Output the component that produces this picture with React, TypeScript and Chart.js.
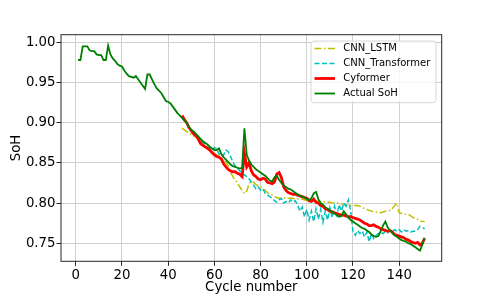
import React, { useEffect, useRef } from "react";
import Chart from "chart.js/auto";

// ---- data ----
const X_TICKS = [0, 20, 40, 60, 80, 100, 120, 140];
const Y_TICKS = [0.75, 0.8, 0.85, 0.9, 0.95, 1.0];
const ACTUAL_START_CYCLE = 1;
const PRED_START_CYCLE = 46;

const actualSoH = [
  0.978, 0.978, 0.995, 0.995, 0.995, 0.990, 0.989, 0.989, 0.985, 0.984,
  0.984, 0.978, 0.978, 0.996, 0.985, 0.980, 0.977, 0.973, 0.971, 0.970,
  0.965, 0.961, 0.958, 0.957, 0.956, 0.958, 0.954, 0.950, 0.946, 0.942,
  0.960, 0.960, 0.954, 0.948, 0.943, 0.940, 0.937, 0.932, 0.927, 0.926,
  0.924, 0.920, 0.916, 0.912, 0.909, 0.906, 0.903, 0.900, 0.895, 0.891,
  0.889, 0.886, 0.883, 0.880, 0.877, 0.875, 0.873, 0.870, 0.868, 0.866,
  0.866, 0.868, 0.861, 0.857, 0.854, 0.851, 0.848, 0.846, 0.845, 0.844,
  0.843, 0.844, 0.893, 0.860, 0.853, 0.848, 0.845, 0.842, 0.840, 0.838,
  0.836, 0.834, 0.831, 0.828, 0.827, 0.832, 0.834, 0.829, 0.825, 0.822,
  0.820, 0.818, 0.817, 0.815, 0.813, 0.811, 0.809, 0.808, 0.807, 0.805,
  0.804, 0.806, 0.812, 0.814, 0.805, 0.800, 0.798, 0.795, 0.793, 0.791,
  0.789, 0.787, 0.785, 0.783, 0.784, 0.790, 0.786, 0.782, 0.779, 0.777,
  0.775, 0.773, 0.771, 0.769, 0.768, 0.766, 0.764, 0.761, 0.759, 0.758,
  0.759, 0.765, 0.772, 0.777, 0.770, 0.766, 0.763, 0.760, 0.758, 0.756,
  0.754, 0.753, 0.752, 0.750, 0.749, 0.747, 0.745, 0.743, 0.741, 0.748,
  0.757,
];

const cyformer = [
  0.909, 0.904, 0.900, 0.894, 0.890, 0.886, 0.884, 0.880, 0.874, 0.872,
  0.870, 0.868, 0.866, 0.863, 0.860, 0.858, 0.857, 0.855, 0.849, 0.845,
  0.842, 0.840, 0.839, 0.839, 0.837, 0.836, 0.833, 0.862, 0.845, 0.850,
  0.840, 0.835, 0.833, 0.830, 0.829, 0.831, 0.830, 0.826, 0.825, 0.824,
  0.826, 0.836, 0.838, 0.832, 0.820, 0.816, 0.813, 0.812, 0.811, 0.811,
  0.810, 0.809, 0.808, 0.807, 0.806, 0.803, 0.802, 0.805, 0.801, 0.800,
  0.797, 0.796, 0.793, 0.792, 0.790, 0.789, 0.788, 0.787, 0.786, 0.785,
  0.785, 0.784, 0.783, 0.783, 0.782, 0.781, 0.780, 0.779, 0.777, 0.775,
  0.774, 0.772, 0.772, 0.773, 0.771, 0.770, 0.768, 0.767, 0.766, 0.765,
  0.766, 0.764, 0.761, 0.760, 0.759, 0.758, 0.757, 0.755, 0.754, 0.752,
  0.751, 0.750, 0.751, 0.748, 0.750, 0.756,
];

const cnnTransformer = [
  0.906, 0.902, 0.899, 0.895, 0.891, 0.888, 0.885, 0.881, 0.878, 0.875,
  0.873, 0.871, 0.868, 0.866, 0.869, 0.868, 0.861, 0.858, 0.860, 0.866,
  0.864, 0.858, 0.851, 0.846, 0.843, 0.840, 0.838, 0.835, 0.833, 0.830,
  0.826, 0.822, 0.818, 0.820, 0.816, 0.818, 0.812, 0.810, 0.808, 0.806,
  0.803, 0.801, 0.804, 0.806, 0.800, 0.802, 0.800, 0.804, 0.801, 0.803,
  0.798, 0.790, 0.795, 0.783, 0.792, 0.779, 0.790, 0.777, 0.793, 0.780,
  0.792, 0.776, 0.790, 0.779, 0.794, 0.782, 0.796, 0.785, 0.798, 0.790,
  0.800, 0.796, 0.804, 0.790, 0.764, 0.760, 0.766, 0.762, 0.765, 0.758,
  0.764, 0.752, 0.762, 0.756, 0.760, 0.762, 0.764, 0.762, 0.765, 0.763,
  0.766, 0.764, 0.767, 0.765, 0.767, 0.764, 0.767, 0.765, 0.766, 0.764,
  0.765, 0.765, 0.767, 0.771, 0.770, 0.768,
];

const cnnLstm = [
  0.893, 0.891, 0.889, 0.887, 0.885, 0.884, 0.882, 0.879, 0.876, 0.873,
  0.871, 0.869, 0.866, 0.864, 0.862, 0.860, 0.858, 0.855, 0.853, 0.851,
  0.846, 0.838, 0.833, 0.829, 0.825, 0.820, 0.816, 0.812, 0.815, 0.824,
  0.827, 0.826, 0.823, 0.821, 0.820, 0.818, 0.816, 0.813, 0.811, 0.810,
  0.808, 0.807, 0.806, 0.806, 0.807, 0.806, 0.806, 0.806, 0.806, 0.805,
  0.805, 0.805, 0.805, 0.804, 0.804, 0.804, 0.803, 0.803, 0.803, 0.802,
  0.802, 0.802, 0.801, 0.801, 0.801, 0.800, 0.800, 0.800, 0.800, 0.799,
  0.799, 0.798, 0.798, 0.797, 0.797, 0.797, 0.797, 0.796, 0.795, 0.793,
  0.792, 0.791, 0.790, 0.789, 0.789, 0.788, 0.788, 0.789, 0.790, 0.790,
  0.791, 0.793, 0.797, 0.800, 0.788, 0.787, 0.787, 0.786, 0.786, 0.784,
  0.782, 0.781, 0.780, 0.778, 0.777, 0.777,
];

const SERIES_NAMES = ["CNN_LSTM", "CNN_Transformer", "Cyformer", "Actual SoH"];

const toPoints = (vals: number[], start: number) =>
  vals.map((y, i) => ({ x: start + i, y }));

const FONT = "'DejaVu Sans', sans-serif";

const frameAndLegend = {
  id: "frameAndLegend",
  afterDatasetsDraw(chart: any) {
    const { ctx, chartArea } = chart;
    const { left, right, top, bottom } = chartArea;
    ctx.save();
    ctx.strokeStyle = "#262626";
    ctx.lineWidth = 1;
    ctx.setLineDash([]);
    ctx.strokeRect(left, top, right - left, bottom - top);

    const w = 125;
    const h = 61.7;
    const x0 = right - 5.7 - w;
    const y0 = top + 6.3;
    const r = 3;
    ctx.beginPath();
    ctx.moveTo(x0 + r, y0);
    ctx.lineTo(x0 + w - r, y0);
    ctx.quadraticCurveTo(x0 + w, y0, x0 + w, y0 + r);
    ctx.lineTo(x0 + w, y0 + h - r);
    ctx.quadraticCurveTo(x0 + w, y0 + h, x0 + w - r, y0 + h);
    ctx.lineTo(x0 + r, y0 + h);
    ctx.quadraticCurveTo(x0, y0 + h, x0, y0 + h - r);
    ctx.lineTo(x0, y0 + r);
    ctx.quadraticCurveTo(x0, y0, x0 + r, y0);
    ctx.closePath();
    ctx.fillStyle = "rgba(255,255,255,0.8)";
    ctx.fill();
    ctx.strokeStyle = "#d6d6d6";
    ctx.lineWidth = 1;
    ctx.stroke();

    SERIES_NAMES.forEach((name, i) => {
      const ds = chart.data.datasets.find((d: any) => d.label === name);
      const y = y0 + 7.5 + i * 15;
      ctx.beginPath();
      ctx.strokeStyle = ds.borderColor;
      ctx.lineWidth = ds.borderWidth;
      ctx.setLineDash(ds.borderDash || []);
      ctx.moveTo(x0 + 3.5, y);
      ctx.lineTo(x0 + 24, y);
      ctx.stroke();
      ctx.setLineDash([]);
      ctx.fillStyle = "#000";
      ctx.font = `10px ${FONT}`;
      ctx.textBaseline = "middle";
      ctx.textAlign = "left";
      ctx.fillText(name, x0 + 32.3, y);
    });
    ctx.restore();
  },
};

export default function App() {
  const ref = useRef<HTMLCanvasElement | null>(null);
  useEffect(() => {
    if (!ref.current) return;
    const chart = new Chart(ref.current, {
      type: "line",
      data: {
        datasets: [
          {
            label: SERIES_NAMES[0],
            data: toPoints(cnnLstm, PRED_START_CYCLE),
            borderColor: "#bfbf00",
            borderWidth: 1.5,
            borderDash: [7, 2.5, 1.5, 2.5],
            pointRadius: 0,
            tension: 0,
            order: 3,
          },
          {
            label: SERIES_NAMES[1],
            data: toPoints(cnnTransformer, PRED_START_CYCLE),
            borderColor: "#00bfbf",
            borderWidth: 1.5,
            borderDash: [5, 2.5],
            pointRadius: 0,
            tension: 0,
            order: 2,
          },
          {
            label: SERIES_NAMES[2],
            data: toPoints(cyformer, PRED_START_CYCLE),
            borderColor: "#ff0000",
            borderWidth: 2.8,
            pointRadius: 0,
            tension: 0,
            order: 1,
          },
          {
            label: SERIES_NAMES[3],
            data: toPoints(actualSoH, ACTUAL_START_CYCLE),
            borderColor: "#008000",
            borderWidth: 1.8,
            pointRadius: 0,
            tension: 0,
            order: 0,
          },
        ],
      },
      options: {
        responsive: false,
        animation: false,
        devicePixelRatio: 1,
        layout: { padding: { left: 0, right: 49.3, top: 34.7, bottom: 0 } },
        plugins: {
          legend: { display: false },
          tooltip: { enabled: false },
        },
        scales: {
          x: {
            type: "linear",
            min: -6.4,
            max: 158.4,
            afterBuildTicks: (axis: any) => {
              axis.ticks = X_TICKS.map((v) => ({ value: v }));
            },
            afterFit: (axis: any) => {
              axis.height = 32.7;
            },
            grid: {
              color: "#d0d0d0",
              lineWidth: 1,
              tickColor: "#262626",
              tickLength: 4.5,
            },
            border: { display: false },
            ticks: {
              color: "#000",
              font: { family: FONT, size: 13.3 },
              padding: 1.5,
              maxRotation: 0,
              autoSkip: false,
            },
            title: {
              display: true,
              text: "Cycle number",
              color: "#000",
              font: { family: FONT, size: 13.3 },
              padding: { top: 0, bottom: -2 },
            },
          },
          y: {
            type: "linear",
            min: 0.7276,
            max: 1.0095,
            afterBuildTicks: (axis: any) => {
              axis.ticks = Y_TICKS.map((v) => ({ value: v }));
            },
            afterFit: (axis: any) => {
              axis.width = 61;
            },
            grid: {
              color: "#d0d0d0",
              lineWidth: 1,
              tickColor: "#262626",
              tickLength: 4.5,
            },
            border: { display: false },
            ticks: {
              color: "#000",
              font: { family: FONT, size: 13.3 },
              padding: 1,
              autoSkip: false,
              callback: (v: any) => Number(v).toFixed(2),
            },
            title: {
              display: true,
              text: "SoH",
              color: "#000",
              font: { family: FONT, size: 13.3 },
              padding: { top: 8.5, bottom: 0 },
            },
          },
        },
      },
      plugins: [frameAndLegend],
    });
    return () => chart.destroy();
  }, []);
  return (
    <div style={{ position: "fixed", left: 0, top: 0, width: 491, height: 294, background: "#fff" }}>
      <canvas ref={ref} width={491} height={294} style={{ display: "block" }} />
    </div>
  );
}
